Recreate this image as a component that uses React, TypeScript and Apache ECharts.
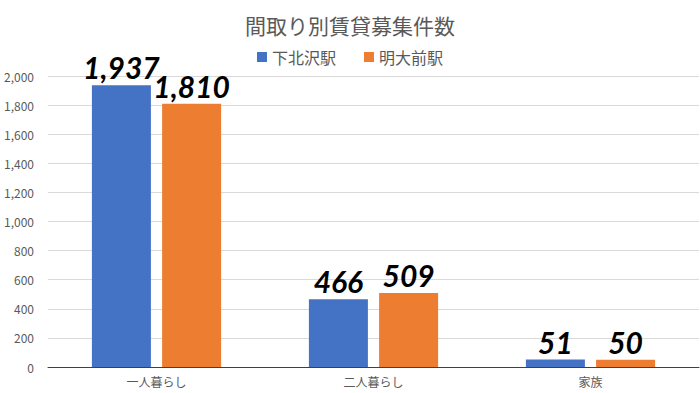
import React, { useEffect, useRef } from "react";
import * as echarts from "echarts";

const categories = ["一人暮らし", "二人暮らし", "家族"];
const shimokitazawa = [1937, 466, 51];
const meidaimae = [1810, 509, 50];
const seriesNames = ["下北沢駅", "明大前駅"];
const titleText = "間取り別賃貸募集件数";

export default function App() {
  const ref = useRef<HTMLDivElement>(null);
  useEffect(() => {
    const chart = echarts.init(ref.current!, null, { renderer: "svg" });
    const labelStyle = {
      show: true,
      position: "top" as const,
      distance: 3,
      fontSize: 30,
      fontWeight: "bold" as const,
      fontStyle: "italic" as const,
      fontFamily: "Lato, 'Noto Sans', sans-serif",
      color: "#000",
      formatter: (p: any) => Number(p.value).toLocaleString("en-US"),
    };
    chart.setOption({
      animation: false,
      backgroundColor: "#fff",
      textStyle: { fontFamily: "'Noto Sans CJK JP', 'Noto Sans', sans-serif" },
      title: {
        text: titleText,
        left: "center",
        top: 9,
        textStyle: { fontSize: 21, fontWeight: "normal", color: "#595959", fontFamily: "'Noto Sans CJK JP', sans-serif" },
      },
      legend: {
        data: seriesNames,
        top: 44,
        left: "center",
        itemWidth: 10,
        itemHeight: 10,
        itemGap: 28,
        icon: "rect",
        textStyle: { fontSize: 16, color: "#595959", fontFamily: "'Noto Sans CJK JP', sans-serif" },
      },
      grid: { left: 48, right: 1, top: 76, bottom: 26, containLabel: false },
      xAxis: {
        type: "category",
        data: categories,
        axisTick: { show: false },
        axisLine: { lineStyle: { color: "#404040", width: 1 } },
        axisLabel: { fontSize: 12, color: "#595959", margin: 8 },
      },
      yAxis: {
        type: "value",
        min: 0,
        max: 2000,
        interval: 200,
        axisLabel: {
          fontSize: 12,
          color: "#595959",
          margin: 14,
          formatter: (v: number) => v.toLocaleString("en-US"),
        },
        splitLine: { lineStyle: { color: "#d9d9d9" } },
        axisLine: { show: false },
      },
      series: [
        {
          name: seriesNames[0],
          type: "bar",
          data: shimokitazawa,
          barWidth: 59,
          barGap: "19%",
          itemStyle: { color: "#4472c4" },
          label: labelStyle,
        },
        {
          name: seriesNames[1],
          type: "bar",
          data: meidaimae,
          barWidth: 59,
          barGap: "19%",
          itemStyle: { color: "#ed7d31" },
          label: labelStyle,
        },
      ],
    });
    return () => chart.dispose();
  }, []);
  return <div ref={ref} style={{ width: 700, height: 393, position: "absolute", left: 0, top: 0 }} />;
}
